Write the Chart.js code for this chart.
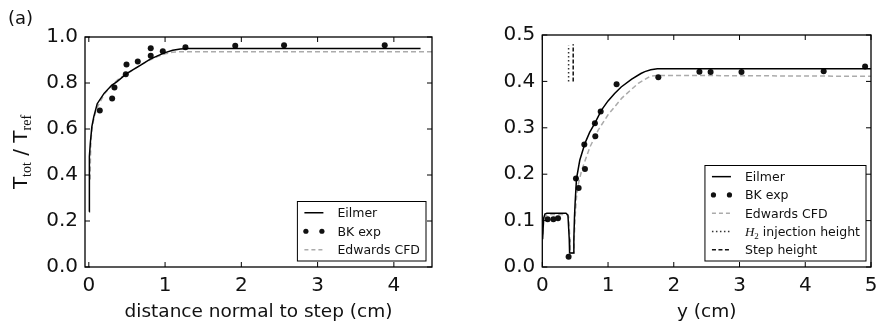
<!DOCTYPE html>
<html><head><meta charset="utf-8">
<script src="https://cdn.jsdelivr.net/npm/chart.js@4/dist/chart.umd.min.js"></script>
<style>
html,body{margin:0;padding:0;background:#fff;}
#wrap{display:flex;width:877px;height:325px;}
canvas{display:block;}
</style></head><body>
<div id="wrap"><canvas id="ca" width="440" height="325"></canvas><canvas id="cb" width="437" height="325"></canvas></div>
<script>
// ---------- Panel (a) data ----------
const aEilmerX = [0.005, 0.005, 0.01, 0.02, 0.04, 0.065, 0.11, 0.2, 0.3, 0.37, 0.5, 0.68, 0.8, 0.9, 1.0, 1.1, 1.2, 1.3, 4.35];
const aEilmerY = [0.24, 0.42, 0.48, 0.54, 0.61, 0.653, 0.71, 0.755, 0.79, 0.806, 0.842, 0.878, 0.903, 0.918, 0.932, 0.942, 0.948, 0.95, 0.95];
const aExpX = [0.144, 0.306, 0.336, 0.485, 0.494, 0.642, 0.812, 0.812, 0.97, 1.267, 1.92, 2.56, 3.88];
const aExpY = [0.68, 0.733, 0.78, 0.838, 0.88, 0.894, 0.951, 0.919, 0.938, 0.955, 0.962, 0.964, 0.964];
const aEdwX = [0.018, 0.02, 0.025, 0.035, 0.05, 0.08, 0.12, 0.2, 0.3, 0.4, 0.5, 0.6, 0.7, 0.8, 0.9, 1.0, 1.1, 1.2, 4.5];
const aEdwY = [0.38, 0.45, 0.52, 0.58, 0.62, 0.665, 0.7, 0.75, 0.79, 0.82, 0.84, 0.862, 0.882, 0.9, 0.915, 0.927, 0.934, 0.936, 0.936];
const aXTicks = [0, 1, 2, 3, 4];
const aYTicks = [0.0, 0.2, 0.4, 0.6, 0.8, 1.0];

// ---------- Panel (b) data ----------
const bEilmerX = [0.005, 0.02, 0.04, 0.07, 0.36, 0.39, 0.41, 0.415, 0.475, 0.48, 0.49, 0.5, 0.52, 0.57, 0.65, 0.72, 0.8, 0.9, 1.0, 1.1, 1.2, 1.36, 1.5, 1.56, 1.65, 1.75, 5.0];
const bEilmerY = [0.06, 0.105, 0.114, 0.116, 0.116, 0.112, 0.06, 0.03, 0.03, 0.06, 0.11, 0.14, 0.19, 0.23, 0.267, 0.29, 0.31, 0.338, 0.358, 0.374, 0.388, 0.405, 0.417, 0.421, 0.425, 0.427, 0.427];
const bExpX = [0.082, 0.168, 0.239, 0.40, 0.512, 0.553, 0.639, 0.649, 0.80, 0.806, 0.888, 1.13, 1.765, 2.39, 2.56, 3.03, 4.28, 4.91];
const bExpY = [0.103, 0.103, 0.105, 0.022, 0.191, 0.170, 0.264, 0.211, 0.310, 0.282, 0.335, 0.394, 0.409, 0.421, 0.420, 0.420, 0.422, 0.432];
const bEdwX = [0.01, 0.02, 0.05, 0.08, 0.37, 0.4, 0.42, 0.425, 0.48, 0.485, 0.5, 0.52, 0.55, 0.6, 0.726, 0.85, 1.0, 1.21, 1.46, 1.64, 1.75, 5.0];
const bEdwY = [0.07, 0.1, 0.11, 0.113, 0.113, 0.108, 0.06, 0.03, 0.03, 0.06, 0.11, 0.15, 0.18, 0.209, 0.259, 0.295, 0.328, 0.364, 0.396, 0.411, 0.413, 0.411];
const bInjX = [0.40, 0.40];
const bInjY = [0.40, 0.478];
const bStepX = [0.47, 0.47];
const bStepY = [0.40, 0.48];
const bXTicks = [0, 1, 2, 3, 4, 5];
const bYTicks = [0.0, 0.1, 0.2, 0.3, 0.4, 0.5];

// ---------- styling ----------
const SANS = '"DejaVu Sans", sans-serif';
const SERIF = '"Liberation Serif", "DejaVu Serif", serif';
const GRAY = '#ababab';
const INK = '#111';

function pts(xs, ys) { return xs.map((x, i) => ({ x: x, y: ys[i] })); }

function drawRich(ctx, segs, x, y, center) {
  let total = 0;
  segs.forEach(s => { ctx.font = s.f; s.w = ctx.measureText(s.t).width; total += s.w; });
  let cx = center ? x - total / 2 : x;
  ctx.textBaseline = 'alphabetic';
  ctx.textAlign = 'left';
  segs.forEach(s => { ctx.font = s.f; ctx.fillText(s.t, cx, y + (s.dy || 0)); cx += s.w; });
  return total;
}

const panelPlugin = {
  id: 'panel',
  afterDatasetsDraw(chart, args, o) {
    const { ctx, chartArea: a, scales } = chart;
    const x = scales.x, y = scales.y;
    ctx.save();
    ctx.strokeStyle = '#000';
    ctx.lineWidth = 1.3;
    ctx.setLineDash([]);
    ctx.strokeRect(a.left, a.top, a.right - a.left, a.bottom - a.top);
    const TL = 5;
    ctx.lineWidth = 1;
    ctx.beginPath();
    x.ticks.forEach(t => {
      const p = x.getPixelForValue(t.value);
      ctx.moveTo(p, a.bottom); ctx.lineTo(p, a.bottom - TL);
      ctx.moveTo(p, a.top); ctx.lineTo(p, a.top + TL);
    });
    y.ticks.forEach(t => {
      const p = y.getPixelForValue(t.value);
      ctx.moveTo(a.left, p); ctx.lineTo(a.left + TL, p);
      ctx.moveTo(a.right, p); ctx.lineTo(a.right - TL, p);
    });
    ctx.stroke();
    ctx.restore();
  },
  afterDraw(chart, args, o) {
    const { ctx, chartArea: a } = chart;
    ctx.save();
    ctx.fillStyle = INK;
    ctx.font = '18px ' + SANS;
    ctx.textAlign = 'left';
    ctx.textBaseline = 'alphabetic';
    ctx.fillText(o.label, o.labelX, 24);
    ctx.save();
    ctx.translate(o.yTitleX, (a.top + a.bottom) / 2);
    ctx.rotate(-Math.PI / 2);
    drawRich(ctx, o.yTitle, 0, 0, true);
    ctx.restore();
    const L = o.legend;
    let maxW = 0;
    L.entries.forEach(e => {
      let w = 0;
      e.text.forEach(s => { ctx.font = s.f; w += ctx.measureText(s.t).width; });
      maxW = Math.max(maxW, w);
    });
    const rowH = L.rowH, padL = 7, sampleW = 19, gap = 14, padR = 6;
    const bw = padL + sampleW + gap + maxW + padR;
    const bh = L.entries.length * rowH + 4;
    const bx = a.right - L.right - bw;
    const by = a.bottom - L.bottom - bh;
    ctx.fillStyle = '#fff';
    ctx.fillRect(bx, by, bw, bh);
    ctx.strokeStyle = '#000';
    ctx.lineWidth = 1;
    ctx.strokeRect(bx, by, bw, bh);
    L.entries.forEach((e, i) => {
      const cy = by + 2 + rowH * (i + 0.5);
      const sx = bx + padL;
      if (e.kind === 'line') {
        ctx.strokeStyle = e.color;
        ctx.lineWidth = e.width;
        ctx.setLineDash(e.dash || []);
        ctx.beginPath(); ctx.moveTo(sx, cy); ctx.lineTo(sx + sampleW, cy); ctx.stroke();
        ctx.setLineDash([]);
      } else {
        ctx.fillStyle = e.color;
        [sx + 1.5, sx + sampleW - 1.5].forEach(px => {
          ctx.beginPath(); ctx.arc(px, cy, 2.6, 0, Math.PI * 2); ctx.fill();
        });
      }
      ctx.fillStyle = INK;
      drawRich(ctx, e.text, sx + sampleW + gap, cy + 4.5, false);
    });
    ctx.restore();
  }
};

function baseOptions(xmin, xmax, ymin, ymax, xTicks, yTicks, pad, yWidth, xTitle, panel) {
  const tickFont = { family: SANS, size: 20 };
  return {
    responsive: false,
    animation: false,
    devicePixelRatio: 1,
    layout: { padding: pad },
    plugins: { legend: { display: false }, tooltip: { enabled: false }, panel: panel },
    scales: {
      x: {
        type: 'linear', min: xmin, max: xmax,
        grid: { display: false, drawTicks: false }, border: { display: false },
        afterBuildTicks: s => { s.ticks = xTicks.map(v => ({ value: v })); },
        afterFit: s => { s.height = 58; s.paddingLeft = 0; s.paddingRight = 0; },
        ticks: { font: tickFont, color: INK, padding: 7, autoSkip: false, maxRotation: 0, callback: v => String(v) },
        title: { display: true, text: xTitle, font: { family: SANS, size: 18.5 }, color: INK, padding: { top: 0, bottom: 2 } }
      },
      y: {
        type: 'linear', min: ymin, max: ymax,
        grid: { display: false, drawTicks: false }, border: { display: false },
        afterBuildTicks: s => { s.ticks = yTicks.map(v => ({ value: v })); },
        afterFit: s => { s.width = yWidth; s.paddingTop = 0; s.paddingBottom = 0; },
        ticks: { font: tickFont, color: INK, padding: 7, autoSkip: false, callback: v => Number(v).toFixed(1) }
      }
    }
  };
}

const lineDs = (label, data, color, width, dash) => ({
  label, data, showLine: true, borderColor: color, backgroundColor: color,
  borderWidth: width, borderDash: dash || [], pointRadius: 0, tension: 0, fill: false
});
const dotDs = (label, data) => ({
  label, data, showLine: false, pointRadius: 3, pointBackgroundColor: '#111', pointBorderWidth: 0, borderColor: '#111'
});

const subF = '14px ' + SERIF;
const mainF = '20px ' + SANS;
const lgF = '12.5px ' + SANS;

new Chart(document.getElementById('ca'), {
  type: 'scatter',
  data: {
    datasets: [
      lineDs('Eilmer', pts(aEilmerX, aEilmerY), '#000', 1.5),
      dotDs('BK exp', pts(aExpX, aExpY)),
      lineDs('Edwards CFD', pts(aEdwX, aEdwY), GRAY, 1.5, [5, 3])
    ]
  },
  options: baseOptions(-0.05, 4.5, 0, 1, aXTicks, aYTicks,
    { top: 37, right: 8, left: 0, bottom: 0 }, 85, 'distance normal to step (cm)',
    {
      label: '(a)', labelX: 8, yTitleX: 27,
      yTitle: [{ t: 'T', f: mainF }, { t: 'tot', f: subF, dy: 4 }, { t: ' / T', f: mainF }, { t: 'ref', f: subF, dy: 4 }],
      legend: {
        right: 6, bottom: 6, rowH: 18.5,
        entries: [
          { kind: 'line', color: '#000', width: 1.5, text: [{ t: 'Eilmer', f: lgF }] },
          { kind: 'dots', color: '#111', text: [{ t: 'BK exp', f: lgF }] },
          { kind: 'line', color: GRAY, width: 1.5, dash: [4, 3], text: [{ t: 'Edwards CFD', f: lgF }] }
        ]
      }
    }),
  plugins: [panelPlugin]
});

new Chart(document.getElementById('cb'), {
  type: 'scatter',
  data: {
    datasets: [
      lineDs('Eilmer', pts(bEilmerX, bEilmerY), '#000', 1.5),
      dotDs('BK exp', pts(bExpX, bExpY)),
      lineDs('Edwards CFD', pts(bEdwX, bEdwY), GRAY, 1.5, [5, 3]),
      lineDs('H2 injection height', pts(bInjX, bInjY), '#333', 1.5, [1.5, 2.5]),
      lineDs('Step height', pts(bStepX, bStepY), '#111', 1.5, [4, 2])
    ]
  },
  options: baseOptions(0, 5, 0, 0.5, bXTicks, bYTicks,
    { top: 35, right: 6, left: 0, bottom: 0 }, 102.3, 'y (cm)',
    {
      label: '(b)', labelX: 473, yTitleX: 484,
      yTitle: [{ t: 'p', f: mainF }, { t: 'pitot', f: subF, dy: 4 }, { t: ' / p', f: mainF }, { t: 'ref', f: subF, dy: 4 }],
      legend: {
        right: 5, bottom: 6, rowH: 18.3,
        entries: [
          { kind: 'line', color: '#000', width: 1.5, text: [{ t: 'Eilmer', f: lgF }] },
          { kind: 'dots', color: '#111', text: [{ t: 'BK exp', f: lgF }] },
          { kind: 'line', color: GRAY, width: 1.5, dash: [4, 3], text: [{ t: 'Edwards CFD', f: lgF }] },
          { kind: 'line', color: '#333', width: 1.5, dash: [1.5, 2.5], text: [{ t: 'H', f: 'italic 13px ' + SERIF }, { t: '2', f: '9px ' + SERIF, dy: 3 }, { t: ' injection height', f: lgF }] },
          { kind: 'line', color: '#111', width: 1.5, dash: [4, 2.5], text: [{ t: 'Step height', f: lgF }] }
        ]
      }
    }),
  plugins: [panelPlugin]
});
</script>
</body></html>
